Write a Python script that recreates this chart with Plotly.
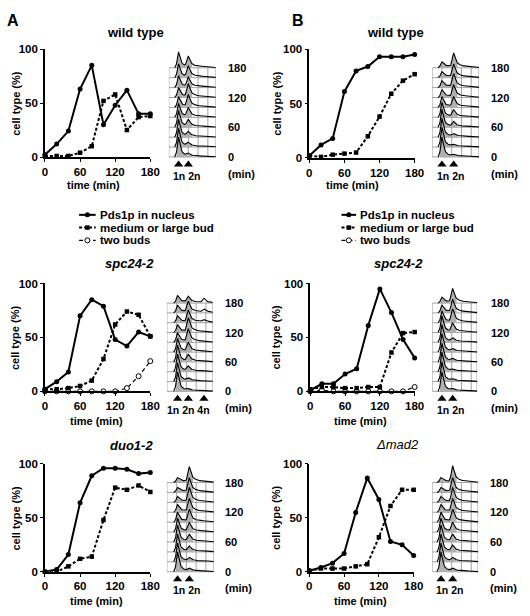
import numpy as np
import plotly.graph_objects as go

W_PX, H_PX = 530, 616
FONT = "Liberation Sans, Arial, sans-serif"

# ---------------- data ----------------
time_min = [0, 20, 40, 60, 80, 100, 120, 140, 160, 180]
x_ticks = [0, 60, 120, 180]
y_ticks = [0, 50, 100]
hist_labels = ["0", "60", "120", "180"]
legend_labels = ["Pds1p in nucleus", "medium or large bud", "two buds"]

wtA_pds1 = [2, 12, 24, 63, 85, 30, 48, 62, 40, 40]
wtA_bud = [1, 1, 1, 4, 10, 52, 58, 25, 37, 38]
wtB_pds1 = [2, 12, 18, 61, 80, 84, 93, 93, 93, 95]
wtB_bud = [2, 1, 3, 4, 5, 20, 38, 59, 71, 77]
spcA_pds1 = [2, 9, 18, 70, 85, 79, 48, 42, 55, 51]
spcA_bud = [2, 2, 3, 5, 10, 30, 62, 74, 71, 51]
spcA_two = [0, 0, 0, 0, 0, 0, 0, 3, 14, 28]
spcB_pds1 = [1, 7, 7, 16, 21, 61, 95, 73, 48, 31]
spcB_bud = [2, 4, 4, 3, 3, 4, 4, 36, 54, 55]
spcB_two = [0, 1, 0, 0, 0, 0, 0, 0, 0, 4]
duo_pds1 = [0, 2, 16, 64, 89, 96, 96, 95, 91, 92]
duo_bud = [0, 0, 5, 12, 14, 48, 78, 76, 80, 74]
mad_pds1 = [1, 4, 8, 17, 55, 87, 67, 28, 25, 15]
mad_bud = [1, 3, 3, 3, 5, 7, 32, 61, 76, 76]

# FACS peak heights per time point (rows 0..180 min), in row units
wtA_1n = [2.0, 1.9, 1.8, 1.7, 1.4, 1.1, 1.0, 1.2, 1.4, 1.6]
wtA_2n = [0.4, 0.5, 0.6, 0.8, 1.0, 1.3, 1.4, 1.1, 1.2, 1.2]
wtB_1n = [2.0, 2.0, 1.9, 1.8, 1.5, 1.1, 0.8, 0.7, 0.6, 0.6]
wtB_2n = [0.3, 0.3, 0.4, 0.6, 0.8, 1.1, 1.3, 1.4, 1.4, 1.5]
spcA_1n = [2.0, 1.9, 1.8, 1.7, 1.4, 1.0, 0.8, 0.7, 0.8, 0.8]
spcA_2n = [0.3, 0.4, 0.6, 0.8, 1.0, 1.4, 1.5, 1.3, 1.2, 0.7]
spcA_4n = [0, 0, 0, 0, 0, 0, 0, 0.2, 0.3, 0.4]
spcB_1n = [2.0, 2.0, 2.0, 1.9, 1.9, 1.8, 1.7, 1.2, 0.8, 0.6]
spcB_2n = [0.3, 0.3, 0.3, 0.4, 0.4, 0.5, 1.0, 1.4, 1.4, 1.5]
duo_1n = [2.0, 1.9, 1.8, 1.7, 1.4, 1.0, 0.8, 0.6, 0.5, 0.5]
duo_2n = [0.4, 0.5, 0.6, 0.8, 1.0, 1.3, 1.4, 1.5, 1.5, 1.6]
mad_1n = [2.0, 1.9, 1.8, 1.7, 1.4, 1.0, 0.8, 0.6, 0.5, 0.5]
mad_2n = [0.4, 0.5, 0.7, 0.8, 1.0, 1.3, 1.4, 1.5, 1.5, 1.7]


def fx(px):
    return px / W_PX


def fy(py):
    return 1 - py / H_PX


STYLES = {
    "pds": dict(line=dict(color="black", width=2),
                marker=dict(symbol="circle", size=5, color="black")),
    "bud": dict(line=dict(color="black", width=2, dash="3px,2px"),
                marker=dict(symbol="square", size=4.5, color="black")),
    "two": dict(line=dict(color="black", width=1.2, dash="4px,3px"),
                marker=dict(symbol="circle", size=5, color="white",
                            line=dict(color="black", width=1))),
}

line_panels = [
    dict(x0=43, x1=151, ytop=44, ybot=154, title="<b>wild type</b>", tx=136, ty=27,
         xtx=93, xty=183, ytx=13, series=[(wtA_pds1, "pds"), (wtA_bud, "bud")]),
    dict(x0=314, x1=422, ytop=44, ybot=155, title="<b>wild type</b>", tx=402, ty=27,
         xtx=358, xty=183, ytx=280, series=[(wtB_pds1, "pds"), (wtB_bud, "bud")]),
    dict(x0=43, x1=151, ytop=283, ybot=393, title="<b><i>spc24-2</i></b>", tx=130, ty=263,
         xtx=96, xty=423, ytx=13,
         series=[(spcA_two, "two"), (spcA_bud, "bud"), (spcA_pds1, "pds")]),
    dict(x0=315, x1=422, ytop=283, ybot=393, title="<b><i>spc24-2</i></b>", tx=405, ty=263,
         xtx=367, xty=423, ytx=280,
         series=[(spcB_two, "two"), (spcB_bud, "bud"), (spcB_pds1, "pds")]),
    dict(x0=43, x1=151, ytop=467, ybot=577, title="<b><i>duo1-2</i></b>", tx=132, ty=448,
         xtx=96, xty=607, ytx=13, series=[(duo_pds1, "pds"), (duo_bud, "bud")]),
    dict(x0=314, x1=421, ytop=467, ybot=577, title="<i>Δmad2</i>", tx=404, ty=447,
         xtx=367, xty=607, ytx=280, series=[(mad_pds1, "pds"), (mad_bud, "bud")]),
]

hist_panels = [
    dict(left=170, W=48, b0=154, b9=63, lx=229, peaks=[(10, wtA_1n), (20, wtA_2n)], names="1n 2n"),
    dict(left=440, W=48, b0=154, b9=63, lx=498, peaks=[(10, wtB_1n), (22, wtB_2n)], names="1n 2n"),
    dict(left=168, W=47, b0=393, b9=303, lx=226,
         peaks=[(11, spcA_1n), (22, spcA_2n), (38, spcA_4n)], names="1n 2n 4n"),
    dict(left=440, W=46, b0=393, b9=303, lx=498, peaks=[(10, spcB_1n), (21, spcB_2n)], names="1n 2n"),
    dict(left=168, W=48, b0=577, b9=486, lx=226, peaks=[(11, duo_1n), (23, duo_2n)], names="1n 2n"),
    dict(left=440, W=47, b0=577, b9=486, lx=497, peaks=[(9, mad_1n), (21, mad_2n)], names="1n 2n"),
]

fig = go.Figure()
annotations = []
shapes = []
layout_axes = {}


def ann(text, x, y, size=10.5, xanchor="center", angle=0, yanchor="middle"):
    annotations.append(dict(text=text, x=fx(x), y=fy(y), xref="paper", yref="paper",
                            showarrow=False, xanchor=xanchor, yanchor=yanchor,
                            textangle=angle, font=dict(family=FONT, size=size, color="black")))


tickfont = dict(family=FONT, size=11.5, color="black", weight="bold")

# ---------------- line charts ----------------
for i, p in enumerate(line_panels, start=1):
    xa = "xaxis" if i == 1 else f"xaxis{i}"
    ya = "yaxis" if i == 1 else f"yaxis{i}"
    xr = "x" if i == 1 else f"x{i}"
    yr = "y" if i == 1 else f"y{i}"
    layout_axes[xa] = dict(domain=[fx(p["x0"]), fx(p["x1"])], range=[0, 180], anchor=yr,
                           showline=True, linecolor="black", linewidth=1.5, ticks="outside",
                           ticklen=3, tickcolor="black", tickvals=x_ticks, showgrid=False,
                           zeroline=False, tickfont=tickfont)
    layout_axes[ya] = dict(domain=[fy(p["ybot"]), fy(p["ytop"])], range=[0, 100], anchor=xr,
                           showline=True, linecolor="black", linewidth=1.5, ticks="outside",
                           ticklen=3, tickcolor="black", tickvals=y_ticks, showgrid=False,
                           zeroline=False, tickfont=tickfont)
    for vals, kind in p["series"]:
        st = STYLES[kind]
        fig.add_trace(go.Scatter(x=time_min, y=vals, mode="lines+markers", xaxis=xr, yaxis=yr,
                                 line=st["line"], marker=st["marker"], cliponaxis=False,
                                 hoverinfo="skip"))
    ann(p["title"], p["tx"], p["ty"], size=13)
    ann("<b>time (min)</b>", p["xtx"], p["xty"], size=11)
    ann("<b>cell type (%)</b>", p["ytx"], (p["ytop"] + p["ybot"]) / 2, size=11, angle=-90)

# ---------------- FACS histograms ----------------
PEAK_DX = [-4, -3, -2, -1, 0, 1, 2, 3, 4.5, 7, 10]
PEAK_V = [0, 0.08, 0.3, 0.7, 1, 0.72, 0.42, 0.24, 0.13, 0.05, 0]

for j, h in enumerate(hist_panels, start=7):
    xa, ya, xr, yr = f"xaxis{j}", f"yaxis{j}", f"x{j}", f"y{j}"
    rowpx = (h["b0"] - h["b9"]) / 9.0
    top_px = h["b9"] - 2.2 * rowpx
    bot_px = h["b0"] + 2.5 * rowpx
    W = h["W"]
    layout_axes[xa] = dict(domain=[fx(h["left"]), fx(h["left"] + W)], range=[0, W], anchor=yr,
                           visible=False)
    layout_axes[ya] = dict(domain=[fy(bot_px), fy(top_px)],
                           range=[-(bot_px - h["b0"]) / rowpx, (h["b0"] - top_px) / rowpx],
                           anchor=xr, visible=False)
    # grid
    for r in range(10):
        shapes.append(dict(type="line", xref=xr, yref=yr, x0=0, x1=W, y0=r, y1=r,
                           line=dict(color="#8a8a8a", width=0.8), layer="below"))
    for gx in [0, 10, 20, 30, 40, W]:
        if gx <= W:
            shapes.append(dict(type="line", xref=xr, yref=yr, x0=gx, x1=gx, y0=0, y1=9,
                               line=dict(color="#8a8a8a", width=0.8), layer="below"))
    shapes.append(dict(type="line", xref=xr, yref=yr, x0=W + 4, x1=W + 4, y0=-0.1, y1=9.1,
                       line=dict(color="#777777", width=0.8, dash="3px,6px"), layer="below"))

    p1 = h["peaks"][0][0]
    p2 = h["peaks"][1][0]
    xs = np.arange(p1 - 4, W + 4.01, 0.5)
    gx_all, gy_all, lx_all, ly_all = [], [], [], []
    for r in range(9, -1, -1):
        prof = np.zeros_like(xs)
        for pos, hts in h["peaks"]:
            prof += hts[r] * np.interp(xs - pos, PEAK_DX, PEAK_V, left=0, right=0)
        prof += np.interp(xs, [p1, p1 + 2, p2 - 2, p2], [0, 0.15, 0.15, 0], left=0, right=0)
        tail = 0.08 + 0.1 * h["peaks"][1][1][r]
        prof += np.interp(xs, [p2, p2 + 3, W - 2, W + 4], [0, tail, tail * 0.5, 0], left=0, right=0)
        yv = r + prof
        m = (xs >= p1 - 2) & (xs <= p2 + 4)
        gxs, gys = xs[m], yv[m]
        gx_all += list(gxs) + list(gxs[::-1]) + [None]
        gy_all += list(gys) + [r] * len(gxs) + [None]
        lx_all += list(xs) + [None]
        ly_all += list(yv) + [None]
    fig.add_trace(go.Scatter(x=gx_all, y=gy_all, xaxis=xr, yaxis=yr, mode="lines",
                             fill="toself", fillcolor="#b0b0b0", line=dict(width=0),
                             hoverinfo="skip", cliponaxis=False))
    fig.add_trace(go.Scatter(x=lx_all, y=ly_all, xaxis=xr, yaxis=yr, mode="lines",
                             line=dict(color="black", width=1.1), hoverinfo="skip",
                             cliponaxis=False))
    # arrows
    arrow_x = [pos for pos, _ in h["peaks"]]
    fig.add_trace(go.Scatter(x=arrow_x, y=[-0.75] * len(arrow_x), xaxis=xr, yaxis=yr,
                             mode="markers", marker=dict(symbol="triangle-up", size=8, color="black"),
                             hoverinfo="skip", cliponaxis=False))
    cx = h["left"] + (arrow_x[0] + arrow_x[-1]) / 2 + (3 if len(arrow_x) == 2 else -2)
    ann(f"<b>{h['names']}</b>", cx, h["b0"] + 19, size=10.5)
    for k, lab in enumerate(hist_labels):
        ann(f"<b>{lab}</b>", h["lx"], h["b0"] - 3 * k * rowpx, size=11, xanchor="left")
    ann("<b>(min)</b>", h["lx"], h["b0"] + 17, size=11, xanchor="left")

# ---------------- legends (overlay axis in pixel units) ----------------
layout_axes["xaxis13"] = dict(domain=[0, 1], range=[0, W_PX], visible=False, anchor="y13")
layout_axes["yaxis13"] = dict(domain=[0, 1], range=[H_PX, 0], visible=False, anchor="x13")
leg_rows = [213, 226, 239]
for lx0, lx1 in [(78, 95), (347, 362)]:
    for yy, kind, lab in zip(leg_rows, ["pds", "bud", "two"], legend_labels):
        st = STYLES[kind]
        fig.add_trace(go.Scatter(x=[lx0, lx1], y=[yy, yy], xaxis="x13", yaxis="y13", mode="lines",
                                 line=st["line"], hoverinfo="skip"))
        fig.add_trace(go.Scatter(x=[(lx0 + lx1) / 2], y=[yy], xaxis="x13", yaxis="y13",
                                 mode="markers", marker=st["marker"], hoverinfo="skip"))
        ann(f"<b>{lab}</b>", lx1 + 2, yy, size=11.5, xanchor="left")

# panel letters
ann("<b>A</b>", 10, 15, size=16)
ann("<b>B</b>", 302, 15, size=16)

fig.update_layout(width=W_PX, height=H_PX, margin=dict(l=0, r=0, t=0, b=0),
                  paper_bgcolor="white", plot_bgcolor="rgba(0,0,0,0)", showlegend=False,
                  annotations=annotations, shapes=shapes, font=dict(family=FONT), **layout_axes)
fig.write_html("out.html", config={"displayModeBar": False},
               post_script="document.body.style.margin='0px';")
